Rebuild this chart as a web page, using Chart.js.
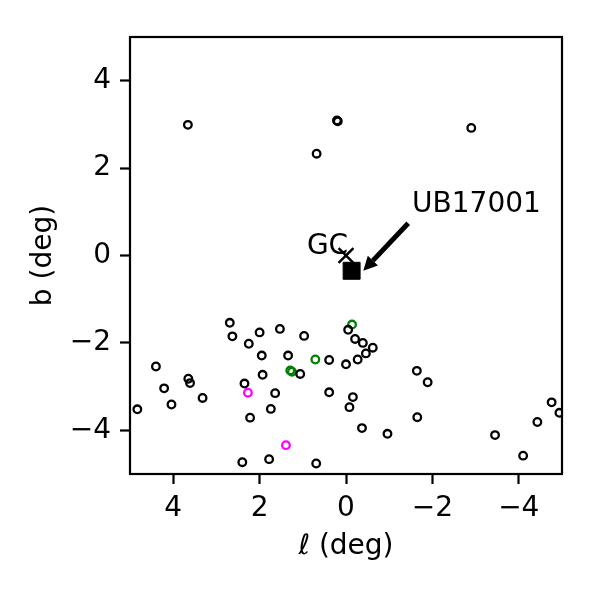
<!DOCTYPE html>
<html>
<head>
<meta charset="utf-8">
<script src="https://cdn.jsdelivr.net/npm/chart.js@4.4.1/dist/chart.umd.min.js"></script>
<style>
  html, body { margin: 0; padding: 0; background: #fff; }
  #wrap { width: 600px; height: 600px; }
</style>
</head>
<body>
<div id="wrap"><canvas id="chart" width="600" height="600"></canvas></div>
<script>
// field sources (l, b) in degrees
const blackL = [2.69, 2.63, 2.25, 2.00, 1.53, 0.97, -0.05, -0.21, 1.95, 1.34, 0.39, 0.00,
  4.40, 3.65, 3.61, 4.21, 4.04, 3.32, 4.83, 2.35, 1.93, 1.06, 1.64, 0.39, 1.74, 2.22,
  -0.16, -0.08, 2.40, 1.78, 0.69, -0.39, -0.62, -0.46, -0.27, -1.64, -1.89, -0.37,
  -0.96, -1.65, -3.45, -4.10, -4.43, -4.76, -4.94, 3.66, 0.19, 0.21, 0.68, -2.90]
const blackB = [-1.54, -1.85, -2.02, -1.76, -1.68, -1.84, -1.70, -1.91, -2.29, -2.29, -2.39, -2.49,
  -2.54, -2.82, -2.92, -3.04, -3.41, -3.26, -3.52, -2.93, -2.73, -2.71, -3.15, -3.13, -3.51, -3.71,
  -3.24, -3.47, -4.73, -4.66, -4.76, -2.00, -2.11, -2.24, -2.38, -2.64, -2.90, -3.95,
  -4.08, -3.70, -4.11, -4.58, -3.81, -3.36, -3.60, 2.99, 3.07, 3.09, 2.33, 2.92]

const greenL = [-0.14, 0.71, 1.29, 1.25]
const greenB = [-1.58, -2.38, -2.63, -2.66]

const magentaL = [2.27, 1.39]
const magentaB = [-3.14, -4.34]

const gcPos = [0, 0]
const ubPos = [-0.13, -0.35]

// annotation anchors
const gcLabel = { text: "GC", l: -0.05, b: 0.03 }
const ubLabel = { text: "UB17001", l: -1.53, b: 1.0 }
const ubArrowTail = [-1.44, 0.74]
const ubArrowHead = [-0.40, -0.35]

const xTicks = [4, 2, 0, -2, -4]
const yTicks = [-4, -2, 0, 2, 4]

const toPoints = (ls, bs) => ls.map((l, i) => ({ x: l, y: bs[i] }))
const minus = (v) => (v < 0 ? "\u2212" + Math.abs(v) : String(v))

const FONT = "'DejaVu Sans', sans-serif"
const FS = 28

const framePlugin = {
  id: "frame",
  afterDatasetsDraw(chart) {
    const { ctx, chartArea: a, scales: { x, y } } = chart
    ctx.save()
    ctx.strokeStyle = "#000"
    ctx.lineWidth = 2.2
    ctx.strokeRect(a.left, a.top, a.right - a.left, a.bottom - a.top)

    // labels
    ctx.fillStyle = "#000"
    ctx.font = FS + "px " + FONT
    ctx.textBaseline = "alphabetic"
    ctx.textAlign = "right"
    ctx.fillText(gcLabel.text, x.getPixelForValue(gcLabel.l), y.getPixelForValue(gcLabel.b))
    ctx.textAlign = "left"
    ctx.fillText(ubLabel.text, x.getPixelForValue(ubLabel.l), y.getPixelForValue(ubLabel.b))

    // arrow
    const x0 = x.getPixelForValue(ubArrowTail[0]), y0 = y.getPixelForValue(ubArrowTail[1])
    const x1 = x.getPixelForValue(ubArrowHead[0]), y1 = y.getPixelForValue(ubArrowHead[1])
    const ang = Math.atan2(y1 - y0, x1 - x0)
    const headLen = 14, headW = 7
    const bx = x1 - headLen * Math.cos(ang), by = y1 - headLen * Math.sin(ang)
    ctx.lineWidth = 5
    ctx.beginPath()
    ctx.moveTo(x0, y0)
    ctx.lineTo(bx, by)
    ctx.stroke()
    ctx.beginPath()
    ctx.moveTo(x1, y1)
    ctx.lineTo(bx + headW * Math.sin(ang), by - headW * Math.cos(ang))
    ctx.lineTo(bx - headW * Math.sin(ang), by + headW * Math.cos(ang))
    ctx.closePath()
    ctx.fill()
    ctx.restore()
  }
}

const ringStyle = (color) => ({
  pointStyle: "circle",
  pointRadius: 3.8,
  pointBorderWidth: 2.3,
  borderColor: color,
  backgroundColor: "rgba(0,0,0,0)"
})

new Chart(document.getElementById("chart"), {
  type: "scatter",
  data: {
    datasets: [
      { data: toPoints(blackL, blackB), ...ringStyle("#000") },
      { data: toPoints(greenL, greenB), ...ringStyle("#008000") },
      { data: toPoints(magentaL, magentaB), ...ringStyle("#ff00ff") },
      {
        data: [{ x: gcPos[0], y: gcPos[1] }],
        pointStyle: "crossRot", pointRadius: 10.5, pointBorderWidth: 2.5,
        borderColor: "#000", backgroundColor: "#000"
      },
      {
        data: [{ x: ubPos[0], y: ubPos[1] }],
        pointStyle: "rect", pointRadius: 12, pointBorderWidth: 1,
        borderColor: "#000", backgroundColor: "#000"
      }
    ]
  },
  options: {
    responsive: false,
    animation: false,
    events: [],
    layout: { padding: { top: 37, right: 38, left: 0, bottom: 0 } },
    plugins: { legend: { display: false }, tooltip: { enabled: false } },
    scales: {
      x: {
        type: "linear",
        min: -5, max: 5, reverse: true,
        afterFit: (s) => { s.height = 126 },
        afterBuildTicks: (s) => { s.ticks = xTicks.map(v => ({ value: v })) },
        grid: { drawOnChartArea: false, tickLength: 10, tickColor: "#000", tickWidth: 2.2 },
        border: { display: false },
        ticks: { color: "#000", font: { family: FONT, size: FS }, padding: 8, maxRotation: 0, callback: minus },
        title: { display: true, text: "\u2113 (deg)", color: "#000", font: { family: FONT, size: FS }, padding: { top: 0, bottom: 36 } }
      },
      y: {
        type: "linear",
        min: -5, max: 5,
        afterFit: (s) => { s.width = 130 },
        afterBuildTicks: (s) => { s.ticks = yTicks.map(v => ({ value: v })) },
        grid: { drawOnChartArea: false, tickLength: 10, tickColor: "#000", tickWidth: 2.2 },
        border: { display: false },
        ticks: { color: "#000", font: { family: FONT, size: FS }, padding: 9, callback: minus },
        title: { display: true, text: "b (deg)", color: "#000", font: { family: FONT, size: FS }, padding: { top: 27, bottom: 0 } }
      }
    }
  },
  plugins: [framePlugin]
})
</script>
</body>
</html>
